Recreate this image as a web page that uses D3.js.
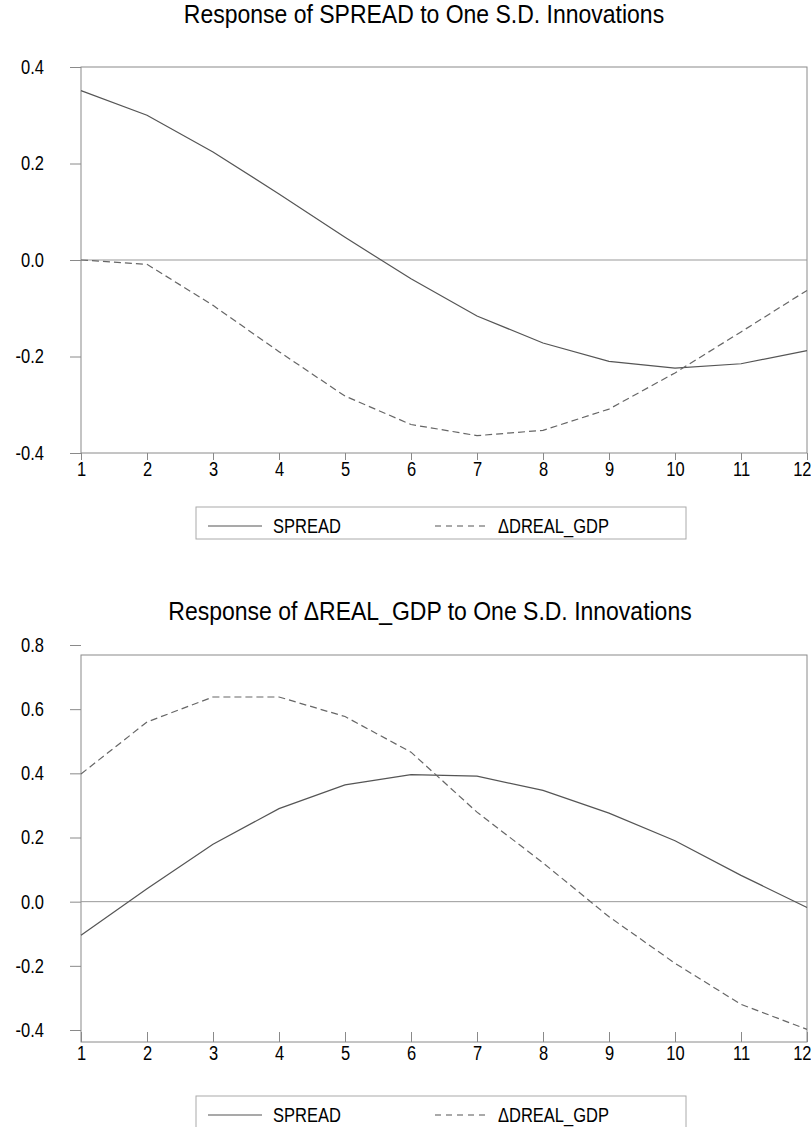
<!DOCTYPE html>
<html>
<head>
<meta charset="utf-8">
<script src="https://cdn.jsdelivr.net/npm/d3@7"></script>
<style>
  body { margin: 0; background: #fff; }
  svg text { font-family: "Liberation Sans", Arial, sans-serif; fill: #000; }
</style>
</head>
<body>
<svg id="chart" width="811" height="1127"></svg>
<script>
// data
const periods = [1, 2, 3, 4, 5, 6, 7, 8, 9, 10, 11, 12];

// response of SPREAD
const spreadToSpread = [0.351, 0.300, 0.224, 0.137, 0.047, -0.039, -0.116, -0.172, -0.210, -0.224, -0.215, -0.188];
const spreadToGdp = [0.000, -0.009, -0.094, -0.190, -0.282, -0.341, -0.364, -0.353, -0.309, -0.234, -0.149, -0.063];

// response of DREAL_GDP
const gdpToSpread = [-0.105, 0.040, 0.179, 0.290, 0.364, 0.396, 0.391, 0.347, 0.276, 0.190, 0.082, -0.018];
const gdpToGdp = [0.398, 0.560, 0.638, 0.638, 0.577, 0.466, 0.279, 0.121, -0.047, -0.192, -0.320, -0.398];

const seriesNames = ["SPREAD", "\u0394DREAL_GDP"];
const titles = [
  "Response of SPREAD to One S.D. Innovations",
  "Response of \u0394REAL_GDP to One S.D. Innovations"
];
const topTicks = [-0.4, -0.2, 0.0, 0.2, 0.4];
const bottomTicks = [-0.4, -0.2, 0.0, 0.2, 0.4, 0.6, 0.8];

const svg = d3.select("#chart");
const left = 81, right = 807;
const stretch = "scale(1,1.2)";

const x = d3.scaleLinear().domain([1, 12]).range([left, right]);

function drawPanel(p) {
    const g = svg.append("g");
    const y = d3.scaleLinear().domain(p.yDomain).range(p.yRange);

    // title
    g.append("text")
        .attr("transform", `translate(${p.titleX},${p.titleY}) scale(1,1.1)`)
        .attr("text-anchor", "middle")
        .attr("font-size", "23px")
        .text(p.title);

    // frame
    g.append("rect")
        .attr("x", left)
        .attr("y", p.boxTop)
        .attr("width", right - left)
        .attr("height", p.boxBottom - p.boxTop)
        .attr("fill", "none")
        .attr("stroke", "#8a8a8a");

    // zero line
    g.append("line")
        .attr("x1", left)
        .attr("x2", right)
        .attr("y1", y(0))
        .attr("y2", y(0))
        .attr("stroke", "#999");

    // y axis
    const yAxis = g.append("g")
        .attr("transform", `translate(${left},0)`)
        .call(d3.axisLeft(y).tickValues(p.ticks).tickFormat(d => d.toFixed(1))
            .tickSize(11).tickPadding(26));
    yAxis.select(".domain").remove();
    yAxis.selectAll(".tick line").attr("stroke", "#8a8a8a");
    yAxis.selectAll(".tick text")
        .attr("font-size", "16.5px")
        .attr("fill", "#000")
        .attr("transform", stretch);

    // x axis
    const xAxis = g.append("g")
        .attr("transform", `translate(0,${p.boxBottom})`)
        .call(d3.axisBottom(x).tickValues(periods).tickFormat(d3.format("d"))
            .tickSize(p.xTick));
    xAxis.select(".domain").remove();
    xAxis.selectAll(".tick line").attr("stroke", "#8a8a8a");
    xAxis.selectAll(".tick text")
        .attr("y", 0)
        .attr("dy", 0)
        .attr("font-size", "16.5px")
        .attr("fill", "#000")
        .attr("transform", `translate(0,${p.labelOffset}) ${stretch}`);
    // last label sits against the right edge
    xAxis.selectAll(".tick text")
        .filter(d => d === 12)
        .attr("text-anchor", "end")
        .attr("x", 4);

    // lines
    const line = d3.line()
        .x(d => x(d.period))
        .y(d => y(d.value));

    g.append("path")
        .datum(periods.map((t, i) => ({ period: t, value: p.solid[i] })))
        .attr("fill", "none")
        .attr("stroke", "#555")
        .attr("stroke-width", 1.2)
        .attr("d", line);

    g.append("path")
        .datum(periods.map((t, i) => ({ period: t, value: p.dashed[i] })))
        .attr("fill", "none")
        .attr("stroke", "#666")
        .attr("stroke-width", 1.2)
        .attr("stroke-dasharray", "7 4")
        .attr("d", line);

    // legend
    const legend = g.append("g")
        .attr("transform", `translate(0,${p.legendTop})`);

    legend.append("rect")
        .attr("x", 196)
        .attr("y", 0)
        .attr("width", 490)
        .attr("height", 32)
        .attr("fill", "none")
        .attr("stroke", "#aaa");

    const items = [
        { name: seriesNames[0], x1: 208, x2: 262, tx: 273, dash: null },
        { name: seriesNames[1], x1: 435, x2: 488, tx: 498, dash: "6 5" }
    ];

    legend.selectAll("line")
        .data(items)
        .join("line")
        .attr("x1", d => d.x1)
        .attr("x2", d => d.x2)
        .attr("y1", 19)
        .attr("y2", 19)
        .attr("stroke", "#555")
        .attr("stroke-width", 1.2)
        .attr("stroke-dasharray", d => d.dash);

    legend.selectAll("text")
        .data(items)
        .join("text")
        .attr("transform", d => `translate(${d.tx},26) ${stretch}`)
        .attr("font-size", "16.5px")
        .text(d => d.name);
}

drawPanel({
    title: titles[0], titleX: 424, titleY: 23,
    yDomain: [-0.4, 0.4], yRange: [453, 67],
    boxTop: 67, boxBottom: 453,
    ticks: topTicks,
    xTick: 7, labelOffset: 23,
    solid: spreadToSpread, dashed: spreadToGdp,
    legendTop: 507
});

drawPanel({
    title: titles[1], titleX: 430, titleY: 620,
    yDomain: [-0.4, 0.8], yRange: [1030, 645],
    boxTop: 655, boxBottom: 1042,
    ticks: bottomTicks,
    xTick: -10, labelOffset: 18,
    solid: gdpToSpread, dashed: gdpToGdp,
    legendTop: 1096
});
</script>
</body>
</html>
